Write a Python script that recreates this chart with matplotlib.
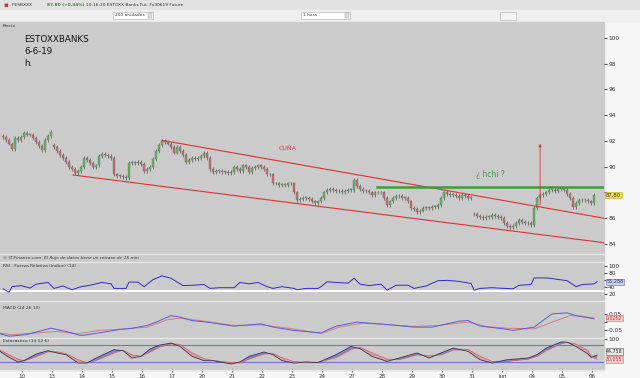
import matplotlib.pyplot as plt
import matplotlib.patches as mpatches
import numpy as np

plt.rcParams['font.family'] = ['DejaVu Sans']

# --- price data (hourly closes, 198 bars) ---
closes = np.array([
    92.3, 92.1, 91.8, 91.4, 92.2, 92.1, 92.3, 92.6, 92.5, 92.5,
    92.2, 91.9, 91.6, 91.3, 92.1, 92.4, 92.7, 91.5, 91.2, 90.9,
    90.7, 90.4, 90.0, 89.8, 89.5, 89.7, 90.0, 90.7, 90.5, 90.3,
    90.0, 90.1, 90.8, 91.0, 90.9, 90.8, 90.7, 89.4, 89.3, 89.3,
    89.2, 89.1, 90.3, 90.3, 90.3, 90.4, 90.2, 89.7, 89.8, 90.0,
    90.6, 91.2, 91.7, 92.0, 91.9, 91.8, 91.5, 91.1, 91.5, 91.2,
    90.9, 90.4, 90.5, 90.7, 90.6, 90.7, 90.8, 91.1, 90.7, 89.8,
    89.6, 89.7, 89.7, 89.6, 89.6, 89.5, 89.6, 90.0, 89.8, 89.7,
    90.1, 90.0, 89.6, 89.9, 90.0, 90.1, 90.0, 89.8, 89.4, 89.4,
    88.7, 88.7, 88.6, 88.6, 88.6, 88.7, 88.7, 88.0, 87.4, 87.5,
    87.6, 87.6, 87.5, 87.3, 87.2, 87.3, 87.6, 88.0, 88.2, 88.3,
    88.2, 88.1, 88.1, 88.0, 88.1, 88.2, 88.2, 89.0, 88.5, 88.3,
    88.1, 88.1, 88.0, 87.8, 88.0, 88.0, 88.0, 87.6, 87.0, 87.3,
    87.6, 87.7, 87.7, 87.6, 87.6, 87.3, 86.8, 86.7, 86.5, 86.6,
    86.8, 86.8, 86.8, 86.9, 86.9, 87.0, 87.6, 88.0, 87.9, 87.8,
    87.8, 87.7, 87.6, 87.8, 87.7, 87.6, 87.6, 86.3, 86.2, 86.1,
    86.0, 86.1, 86.1, 86.25, 86.2, 86.1, 86.0, 85.6, 85.4, 85.3,
    85.4, 85.6, 85.9, 85.7, 85.6, 85.6, 85.5, 86.8, 87.6, 87.8,
    87.9, 88.0, 88.2, 88.2, 88.1, 88.3, 88.3, 88.2, 87.9, 87.6,
    86.9, 87.2, 87.4, 87.4, 87.4, 87.3, 87.2, 87.8,
])
first_open = 92.4
gap_opens = {17: 91.7, 157: 86.35}
last_price = 87.80

days = ['10', '13', '14', '15', '16', '17', '20', '21', '22', '23',
        '24', '27', '28', '29', '30', '31', 'jun', '04', '05', '06']

# RSI (14)
rsi_x = [0, 2, 3, 6, 9, 11, 15, 17, 20, 23, 26, 29, 33, 36, 37, 41, 42, 45, 47, 50,
         53, 56, 60, 63, 67, 69, 72, 77, 79, 82, 85, 88, 90, 93, 97, 98, 101, 105, 106, 108,
         111, 115, 117, 119, 122, 126, 128, 131, 135, 137, 141, 145, 148, 152, 156, 157, 159, 163, 167, 170,
         172, 176, 177, 181, 183, 188, 191, 193, 197, 198]
rsi_y = [35, 25, 41, 44, 37, 48, 53, 36, 43, 32, 41, 45, 53, 49, 36, 36, 54, 54, 41, 61,
         72, 65, 44, 45, 47, 36, 38, 38, 53, 49, 53, 41, 36, 41, 36, 32, 36, 36, 41, 55,
         53, 51, 65, 48, 44, 48, 31, 45, 45, 36, 43, 58, 59, 56, 50, 31, 36, 38, 36, 35,
         45, 47, 66, 66, 64, 58, 41, 47, 49, 55.3]
rsi_last = 55.288

# MACD (24 26 13)
macd_x = [-1, 2, 8, 16, 21, 26, 32, 39, 43, 48, 51, 56, 59, 63, 68, 77, 86, 90, 97, 106,
          111, 118, 128, 137, 143, 152, 155, 159, 167, 170, 177, 183, 188, 191, 197]
macd_y = [-0.077, -0.092, -0.081, -0.042, -0.062, -0.088, -0.071, -0.050, -0.042, -0.025,
          -0.004, 0.037, 0.027, 0.006, -0.004, -0.029, -0.015, -0.035, -0.056, -0.071,
          -0.029, -0.004, -0.019, -0.035, -0.035, 0.002, 0.006, -0.029, -0.046, -0.056,
          -0.035, 0.048, 0.054, 0.037, 0.017]
signal_x = [-1, 3, 10, 18, 25, 32, 41, 48, 55, 59, 68, 77, 86, 95, 106, 112, 120, 128, 137, 145,
            155, 161, 168, 177, 183, 189, 193, 197]
signal_y = [-0.073, -0.083, -0.073, -0.062, -0.077, -0.056, -0.046, -0.035, 0.0125, 0.021,
            0.0, -0.025, -0.021, -0.042, -0.075, -0.035, -0.010, -0.019, -0.031, -0.025,
            -0.004, -0.031, -0.042, -0.046, -0.004, 0.037, 0.033, 0.021]

# Estocastico (14 12 6)
sto_x = [-1, 2, 5, 7, 11, 15, 18, 21, 25, 28, 31, 37, 40, 43, 46, 49, 52, 56, 59, 63,
         67, 70, 76, 79, 82, 87, 90, 93, 97, 101, 105, 111, 116, 119, 123, 128, 132, 138, 142, 146,
         150, 155, 159, 163, 168, 175, 178, 181, 186, 188, 191, 195, 196, 198]
sto_k = [57.6, 36.5, 20, 24.7, 48, 60, 51.8, 46, 16.5, 16.5, 34, 63.5, 60, 34, 40, 66, 79, 87, 75, 40,
         24.7, 24.7, 13, 20, 40, 55, 46, 24.7, 16.5, 20, 18, 46, 75, 67, 40, 22, 34, 52, 34, 52,
         69, 57.6, 28, 16.5, 28, 34, 46, 69, 90.6, 90, 75, 48, 36.5, 44.758]
sto_d = [62, 45, 30, 24, 38, 56, 56, 49, 28, 18, 25, 52, 62, 45, 40, 55, 72, 84, 82, 52,
         32, 25, 18, 17, 30, 48, 50, 35, 21, 18, 19, 35, 64, 72, 52, 30, 28, 45, 42, 45,
         62, 64, 40, 22, 22, 30, 40, 60, 84, 90, 83, 60, 40, 30.055]

W, H = 640, 378
GRAY = '#cbcbcb'


def fx(x):
    return x / W


def fy(y):
    return 1 - y / H


def panel(top, bottom):
    a = fig.add_axes([0, fy(bottom), fx(604), (bottom - top) / H])
    a.set_facecolor(GRAY)
    for s in a.spines.values():
        s.set_visible(False)
    a.set_xlim(-1, 200.3)
    a.yaxis.tick_right()
    a.tick_params(axis='y', labelsize=4.2, length=2, pad=1, colors='#555555', labelcolor='#333333')
    a.tick_params(axis='x', bottom=False, labelbottom=False)
    return a


def rect(x0, y0, x1, y1, **kw):
    fig.patches.append(mpatches.Rectangle((fx(x0), fy(y1)), fx(x1 - x0), (y1 - y0) / H,
                                          transform=fig.transFigure, **kw))


fig = plt.figure(figsize=(6.4, 3.78), dpi=100, facecolor='#f6f6f6')

# chrome: top info bar and toolbar
rect(0, 0, 640, 10, color='#e2e2e2', zorder=-2)
rect(0, 10, 640, 22, color='#efefef', zorder=-2)
rect(0, 22, 604, 370, color=GRAY, zorder=-2)
fig.text(fx(3), fy(5), '\u25aa', color='#cc3333', fontsize=5, va='center')
fig.text(fx(9), fy(5), '- FESBXXX', fontsize=3.2, va='center', color='#333333')
fig.text(fx(47), fy(5), '87,80 (+0,34%)', fontsize=3.1, va='center', color='#2a8a2a', fontweight='bold')
fig.text(fx(86), fy(5), '10:16:20 ESTOXX Banks Fut. Full0619 Future', fontsize=3.2, va='center',
         color='#333333')
for x0, x1, lab in [(113, 153, '200 unidades'), (301, 350, '1 hora')]:
    rect(x0, 12, x1, 19, facecolor='white', edgecolor='#aaaaaa', lw=0.4, zorder=1)
    fig.text(fx(x0 + 2), fy(15.5), lab, fontsize=3.2, va='center', color='#333333')
    rect(x1 - 5, 13, x1 - 1, 18, facecolor='#dddddd', edgecolor='#999999', lw=0.3, zorder=2)
rect(500, 12, 516, 20, facecolor='#f4f4f4', edgecolor='#aaaaaa', lw=0.4, zorder=1)

# --- price panel ---
ax = panel(22, 253)
ax.set_ylim(83.3, 101.24)
ax.set_yticks(range(84, 101, 2))
ax.set_yticklabels(['84', '86', '', '90', '92', '94', '96', '98', '100'])

n = len(closes)
idx = np.arange(n)
opens = np.r_[first_open, closes[:-1]]
for k, v in gap_opens.items():
    opens[k] = v
wick = 0.15
highs = np.maximum(opens, closes) + wick
lows = np.minimum(opens, closes) - wick
colors = np.where(closes >= opens, '#5cb85c', '#cc6a6a')
ax.vlines(idx, lows, highs, color='#555555', lw=0.5, zorder=2)
ax.bar(idx, np.maximum(np.abs(closes - opens), 0.05), bottom=np.minimum(opens, closes), width=0.8,
       color=colors, edgecolor='#666666', linewidth=0.25, zorder=3)

# wedge (cuna), resistance and target
ax.plot([53, 200.3], [92.05, 86.0], color='#e03030', lw=0.8, zorder=4)
ax.plot([23.3, 200.3], [89.36, 84.1], color='#e03030', lw=0.8, zorder=4)
ax.plot([124.7, 200.3], [88.43, 88.43], color='#3f9a3f', lw=1.8, zorder=4)
ax.annotate('', xy=(179, 92.0), xytext=(179, 86.8),
            arrowprops=dict(arrowstyle='-|>', color='#e03030', lw=0.6, mutation_scale=4), zorder=4)
ax.text(95, 91.38, 'CUÑA', color='#e03030', fontsize=4.5, ha='center', va='center')
ax.text(162.3, 89.36, '¿ hchi ?', color='#3f9a3f', fontsize=5.5, ha='center', va='center')
ax.text(201, last_price, '87,80', fontsize=3.8, va='center', ha='left', color='#333333', clip_on=False,
        bbox=dict(boxstyle='square,pad=0.15', fc='#f2df4a', ec='#b8a020', lw=0.4), zorder=6)

fig.text(fx(3), fy(26), 'Precio', fontsize=3.2, va='center', color='#333333')
fig.text(fx(24), fy(40), 'ESTOXXBANKS', fontsize=6.3, va='center', color='#111111')
fig.text(fx(24), fy(52), '6-6-19', fontsize=6.3, va='center', color='#111111')
fig.text(fx(24), fy(64), 'h.', fontsize=6.3, va='center', color='#111111')
fig.text(fx(3), fy(258.5), '© IT-Finance.com  El flujo de datos tiene un retraso de 15 min',
         fontsize=3.2, style='italic', va='center', color='#333333')

# separators
for y in [254, 261.5, 301, 337.5, 369.5]:
    fig.add_artist(plt.Line2D([0, fx(604)], [fy(y), fy(y)], transform=fig.transFigure,
                              color='#e6e6e6', lw=1.0))

# --- RSI panel ---
ax_rsi = panel(262, 300)
ax_rsi.set_ylim(20 - 6 / 0.35, 20 + 32 / 0.35)
ax_rsi.set_yticks([20, 40, 60, 80, 100])
ax_rsi.set_yticklabels(['20', '40', '', '80', '100'])
ax_rsi.axhline(30, color='white', lw=1.4, zorder=1)
ax_rsi.plot(rsi_x, rsi_y, color='#2c2ccc', lw=0.7, zorder=3)
ax_rsi.text(201, rsi_last, '55,288', fontsize=3.5, va='center', ha='left', color='#333366', clip_on=False,
            bbox=dict(boxstyle='square,pad=0.12', fc='#c8d0f0', ec='#6a6acc', lw=0.4), zorder=6)
fig.text(fx(3), fy(266), 'RSI - Fuerza Relativa (índice) (14)', fontsize=3.2, va='center', color='#333333')

# --- MACD panel ---
ax_macd = panel(302, 337)
ax_macd.set_ylim((321.5 - 337) / 160, (321.5 - 302) / 160)
ax_macd.set_yticks([-0.05, 0, 0.05])
ax_macd.set_yticklabels(['-0,05', '', '0,05'])
ax_macd.plot(signal_x, signal_y, color='#d97a7a', lw=0.7, zorder=3)
ax_macd.plot(macd_x, macd_y, color='#5a5ae0', lw=0.7, zorder=3)
ax_macd.text(201, 0.022, '0,0252', fontsize=3.4, va='center', ha='left', color='#cc4444', clip_on=False,
             bbox=dict(boxstyle='square,pad=0.12', fc='#f0c8c8', ec='#cc7777', lw=0.4), zorder=6)
fig.text(fx(3), fy(308), 'MACD (24 26 13)', fontsize=3.2, va='center', color='#333333')

# --- Stochastic panel ---
ax_st = panel(338, 369)
ax_st.set_ylim(20 - 7 / 0.283, 20 + 24 / 0.283)
ax_st.set_yticks([100])
ax_st.axhline(80, color='#7070dd', lw=0.8, zorder=1)
ax_st.axhline(20, color='#7070dd', lw=0.8, zorder=1)
k = np.array(sto_k)
d = np.array(sto_d)
ax_st.fill_between(sto_x, k, d, where=k >= d, interpolate=True, color='#8686d6', lw=0, zorder=2)
ax_st.fill_between(sto_x, k, d, where=k < d, interpolate=True, color='#e0a4a4', lw=0, zorder=2)
ax_st.plot(sto_x, d, color='#cc6666', lw=0.6, zorder=3)
ax_st.plot(sto_x, k, color='#333355', lw=0.6, zorder=3)
ax_st.text(201, 57, '44,758', fontsize=3.4, va='center', ha='left', color='#333333', clip_on=False,
           bbox=dict(boxstyle='square,pad=0.12', fc='#e8e8e8', ec='#555555', lw=0.4), zorder=6)
ax_st.text(201, 29, '30,055', fontsize=3.4, va='center', ha='left', color='#cc4444', clip_on=False,
           bbox=dict(boxstyle='square,pad=0.12', fc='#f0c8c8', ec='#cc7777', lw=0.4), zorder=6)
fig.text(fx(3), fy(341.5), 'Estocástico (14 12 6)', fontsize=3.2, va='center', color='#333333')

ax_st.set_xticks(np.arange(6.3, 200, 10))
ax_st.set_xticklabels(days)
ax_st.tick_params(axis='x', bottom=True, labelbottom=True, labelsize=4, length=2, pad=1.5,
                  colors='#555555', labelcolor='#333333')

fig.savefig('out.png', dpi=100, facecolor=fig.get_facecolor())
